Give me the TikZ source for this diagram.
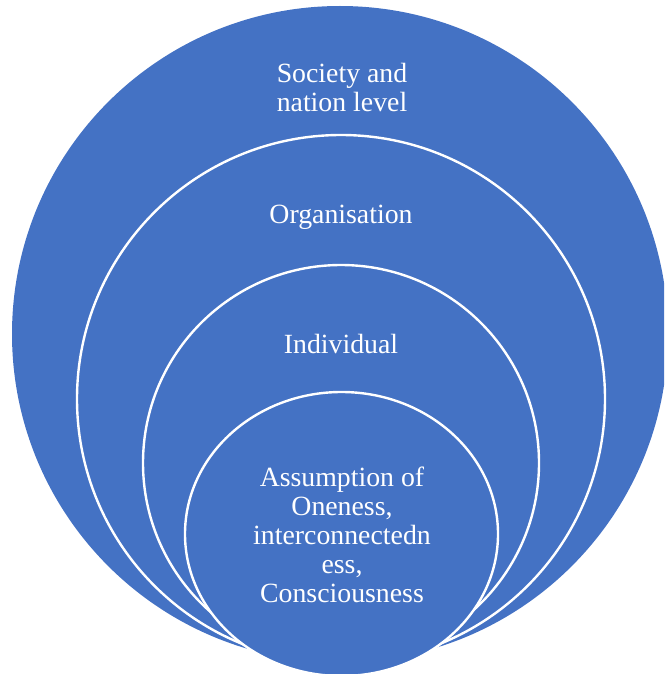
\documentclass[tikz,border=0pt]{standalone}
\usepackage{fontspec}
\setmainfont{Liberation Serif}
\newfontfamily\lblfont{Liberation Serif}
\definecolor{ringblue}{HTML}{4472C4}
\tikzset{
	ring/.style={fill=ringblue, draw=white, line width=2.4pt},
	lbl/.style={text=white, align=center, inner sep=0pt,
		font=\lblfont\fontsize{27.8}{29}\selectfont}
}
\begin{document}
\begin{tikzpicture}[x=1pt,y=-1pt]
		\useasboundingbox (0,0) rectangle (664,674);
		\clip (0,0) rectangle (664,674);

		% круги
		\fill[ringblue] (340,334) circle (328);
		\draw[ring] (341,399) circle (264);
		\draw[ring] (341,463) circle (198);
		\draw[ring] (341.5,534) ellipse (156.5 and 142);

		% подписи
		\node[lbl] (society) at (342,87) {Society and\\nation level};
		\node[lbl] (organisation) at (341,217) {Organisation};
		\node[lbl] (individual) at (341,344) {Individual};
		\node[lbl] (oneness) at (342,535) {Assumption of\\Oneness,\\interconnectedn\\ess,\\Consciousness};
	\end{tikzpicture}
\end{document}
